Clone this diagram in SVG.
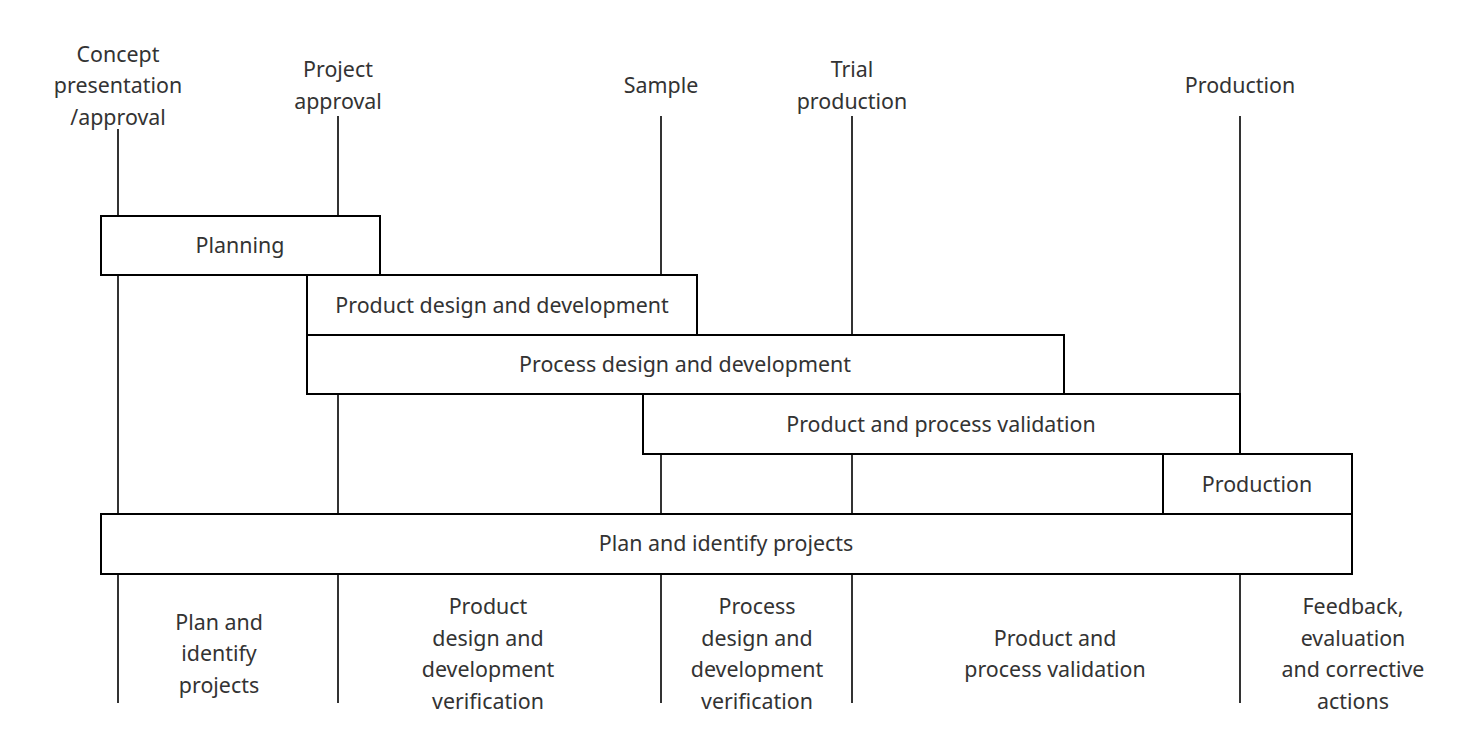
<svg xmlns="http://www.w3.org/2000/svg" width="1479" height="754" viewBox="0 0 1479 754">
<style>
.v{stroke:#333;stroke-width:2;fill:none}
.b{fill:#fff;stroke:#000;stroke-width:2}
text{font-family:"Noto Sans","Open Sans",sans-serif;font-size:21.4px;fill:#333;text-anchor:middle}
</style>
<rect width="1479" height="754" fill="#fff"/>
<g id="connectors">
<line class="v" x1="118" y1="129" x2="118" y2="703"/>
<line class="v" x1="338" y1="116" x2="338" y2="703"/>
<line class="v" x1="661" y1="116" x2="661" y2="703"/>
<line class="v" x1="852" y1="116" x2="852" y2="703"/>
<line class="v" x1="1240" y1="116" x2="1240" y2="703"/>
</g>
<g id="labels-top">
<text x="118" y="62">Concept</text>
<text x="118" y="93">presentation</text>
<text x="118" y="125">/approval</text>
<text x="338" y="77">Project</text>
<text x="338" y="109">approval</text>
<text x="661" y="93">Sample</text>
<text x="852" y="77">Trial</text>
<text x="852" y="109">production</text>
<text x="1240" y="93">Production</text>
</g>
<g id="planning"><rect class="b" x="101" y="216" width="279" height="59"/><text x="240" y="253">Planning</text></g>
<g id="product-design"><rect class="b" x="307" y="275" width="390" height="60"/><text x="502" y="313">Product design and development</text></g>
<g id="process-design"><rect class="b" x="307" y="335" width="757" height="59"/><text x="685" y="372">Process design and development</text></g>
<g id="validation"><rect class="b" x="643" y="394" width="597" height="60"/><text x="941" y="432">Product and process validation</text></g>
<g id="production"><rect class="b" x="1163" y="454" width="189" height="60"/><text x="1257" y="492">Production</text></g>
<g id="plan-identify"><rect class="b" x="101" y="514" width="1251" height="60"/><text x="726" y="551">Plan and identify projects</text></g>
<g id="labels-bottom">
<text x="219" y="630">Plan and</text>
<text x="219" y="661">identify</text>
<text x="219" y="693">projects</text>
<text x="488" y="614">Product</text>
<text x="488" y="646">design and</text>
<text x="488" y="677">development</text>
<text x="488" y="709">verification</text>
<text x="757" y="614">Process</text>
<text x="757" y="646">design and</text>
<text x="757" y="677">development</text>
<text x="757" y="709">verification</text>
<text x="1055" y="646">Product and</text>
<text x="1055" y="677">process validation</text>
<text x="1353" y="614">Feedback,</text>
<text x="1353" y="646">evaluation</text>
<text x="1353" y="677">and corrective</text>
<text x="1353" y="709">actions</text>
</g>
</svg>
